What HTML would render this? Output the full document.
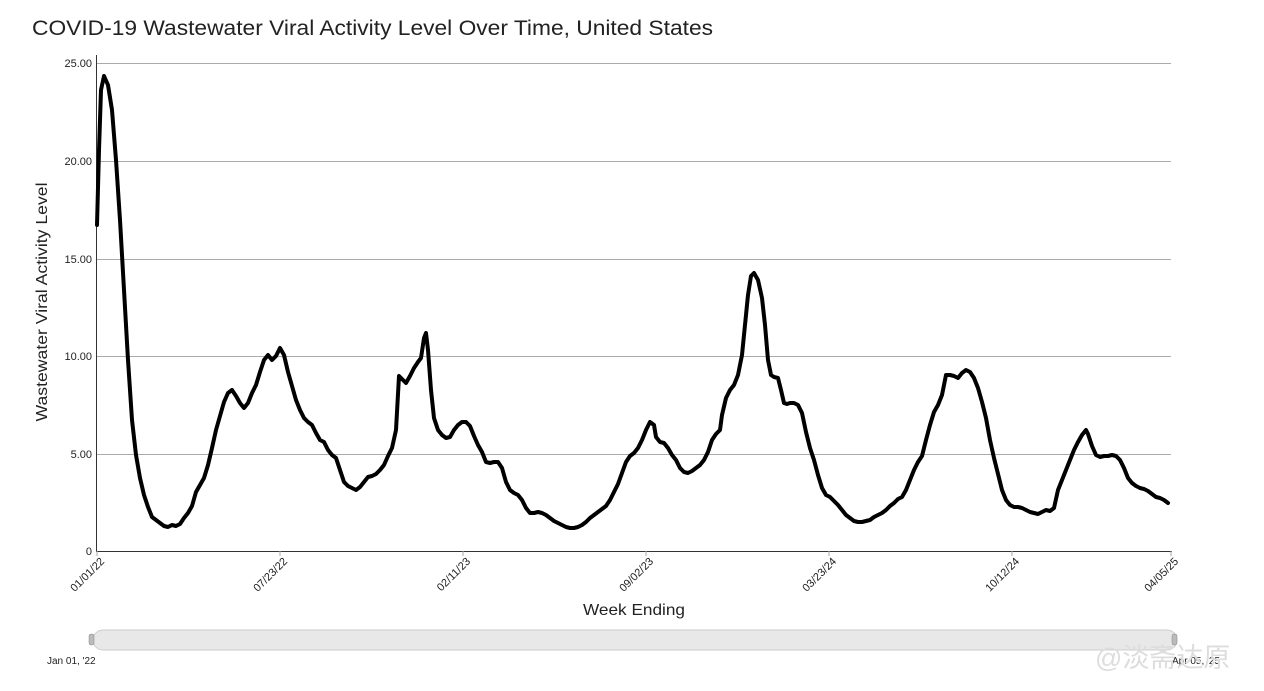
<!DOCTYPE html>
<html><head><meta charset="utf-8"><style>
body{margin:0;background:#fff;width:1264px;height:686px;overflow:hidden;font-family:"Liberation Sans",sans-serif}
</style></head><body>
<svg width="1264" height="686" xmlns="http://www.w3.org/2000/svg" font-family="Liberation Sans, sans-serif">
<text x="32" y="35" font-size="21" fill="#222" textLength="681" lengthAdjust="spacingAndGlyphs">COVID-19 Wastewater Viral Activity Level Over Time, United States</text>
<g stroke="#aaa" stroke-width="1">
<line x1="97" y1="63.5" x2="1171" y2="63.5"/>
<line x1="97" y1="161.5" x2="1171" y2="161.5"/>
<line x1="97" y1="259.5" x2="1171" y2="259.5"/>
<line x1="97" y1="356.5" x2="1171" y2="356.5"/>
<line x1="97" y1="454.5" x2="1171" y2="454.5"/>
</g>
<line x1="96.5" y1="55" x2="96.5" y2="551" stroke="#333"/>
<line x1="96" y1="551.5" x2="1172" y2="551.5" stroke="#333"/>
<g font-size="11" fill="#222" text-anchor="end">
<text x="92" y="67">25.00</text><text x="92" y="165">20.00</text><text x="92" y="263">15.00</text><text x="92" y="360">10.00</text><text x="92" y="458">5.00</text><text x="92" y="555">0</text>
</g>
<g stroke="#aaa"><line x1="97" y1="551" x2="97" y2="556"/><line x1="280" y1="551" x2="280" y2="556"/><line x1="463" y1="551" x2="463" y2="556"/><line x1="646" y1="551" x2="646" y2="556"/><line x1="829" y1="551" x2="829" y2="556"/><line x1="1012" y1="551" x2="1012" y2="556"/><line x1="1171" y1="551" x2="1171" y2="556"/></g>
<g font-size="11" fill="#222" text-anchor="end">
<text transform="translate(105,562) rotate(-45)">01/01/22</text>
<text transform="translate(288,562) rotate(-45)">07/23/22</text>
<text transform="translate(471,562) rotate(-45)">02/11/23</text>
<text transform="translate(654,562) rotate(-45)">09/02/23</text>
<text transform="translate(837,562) rotate(-45)">03/23/24</text>
<text transform="translate(1020,562) rotate(-45)">10/12/24</text>
<text transform="translate(1179,562) rotate(-45)">04/05/25</text>
</g>
<text x="634" y="615" font-size="16" text-anchor="middle" fill="#222" textLength="102" lengthAdjust="spacingAndGlyphs">Week Ending</text>
<text transform="translate(47,302) rotate(-90)" x="-119.5" font-size="16" fill="#222" textLength="239" lengthAdjust="spacingAndGlyphs">Wastewater Viral Activity Level</text>
<polyline fill="none" stroke="#000" stroke-width="4" stroke-linejoin="round" stroke-linecap="round" points="97,225 99,150 101,90 104,76 108,85 112,110 116,160 120,220 124,290 128,360 132,420 136,455 140,478 144,495 148,507 152,517 156,520 160,523 164,526 168,527 172,525 176,526 180,524 184,518 188,513 192,506 196,492 200,485 204,478 208,465 212,448 216,430 220,416 224,402 228,393 232,390 236,396 240,403 244,408 248,403 252,393 256,385 260,372 264,360 268,355 272,360 276,356 280,348 284,355 288,372 292,386 296,400 300,410 304,418 308,422 312,425 316,433 320,440 324,442 328,450 332,455 336,458 340,470 344,482 348,486 352,488 356,490 360,487 364,482 368,477 372,476 376,474 380,470 384,465 388,456 392,448 396,430 399,376 403,380 406,383 410,376 414,368 418,362 421,358 424,338 426,333 428,350 431,390 434,418 438,430 442,435 446,438 450,437 454,430 458,425 462,422 466,422 470,426 474,436 478,445 482,452 486,462 490,463 494,462 498,462 502,468 506,482 510,490 514,493 518,495 522,500 526,508 530,513 534,513 538,512 542,513 546,515 550,518 554,521 558,523 562,525 566,527 570,528 574,528 578,527 582,525 586,522 590,518 594,515 598,512 602,509 606,506 610,500 614,492 618,484 622,473 626,462 630,456 634,453 638,448 642,440 646,430 650,422 654,425 656,437 660,442 664,443 668,448 672,455 676,460 680,468 684,472 688,473 692,471 696,468 700,465 704,460 708,452 712,440 716,434 720,430 722,415 726,398 730,390 734,385 738,375 742,355 745,325 748,295 751,276 754,273 758,280 762,298 765,325 768,360 771,375 774,377 778,378 781,390 784,403 787,404 790,403 794,403 798,405 802,413 806,432 810,448 814,460 818,475 822,488 826,495 830,497 834,501 838,505 842,510 846,515 850,518 854,521 858,522 862,522 866,521 870,520 874,517 878,515 882,513 886,510 890,506 894,503 898,499 902,497 906,490 910,480 914,470 918,462 922,456 926,440 930,425 934,412 938,405 942,395 946,375 950,375 954,376 958,378 962,373 966,370 970,372 974,378 978,388 982,402 986,418 990,440 994,458 998,474 1002,490 1006,500 1010,505 1014,507 1018,507 1022,508 1026,510 1030,512 1034,513 1038,514 1042,512 1046,510 1050,511 1054,508 1058,490 1062,480 1066,470 1070,460 1074,450 1078,442 1082,435 1086,430 1088,434 1092,446 1096,455 1100,457 1104,456 1108,456 1112,455 1116,456 1120,460 1124,468 1128,478 1132,483 1136,486 1140,488 1144,489 1148,491 1152,494 1156,497 1160,498 1164,500 1168,503"/>
<rect x="93" y="630" width="1084" height="20" rx="10" fill="#e8e8e8" stroke="#ccc"/>
<rect x="89" y="634" width="5" height="11" rx="2" fill="#bbb" stroke="#888" stroke-width="0.5"/>
<rect x="1172" y="634" width="5" height="11" rx="2" fill="#bbb" stroke="#888" stroke-width="0.5"/>
<text x="47" y="664" font-size="10" fill="#222">Jan 01, '22</text>
<text x="1172" y="664" font-size="10" fill="#222">Apr 05, '25</text>
<text x="1095" y="667" font-size="27" fill="#ddd" font-family="Liberation Sans, Noto Sans CJK SC, sans-serif">@淡斋达原</text>
</svg>
</body></html>
